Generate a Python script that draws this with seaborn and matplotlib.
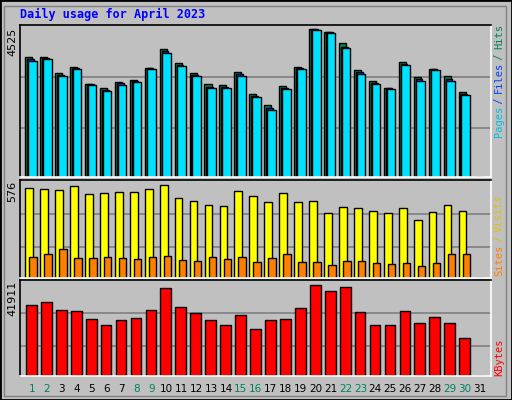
import matplotlib
matplotlib.use("Agg")
import matplotlib.pyplot as plt
import seaborn as sns
import numpy as np

days = list(range(1, 32))
hits = [3660,3660,3180,3354,2834,2712,2895,2956,3323,3904,3476,3180,2834,2804,3201,2528,2192,2773,3354,4525,4424,4088,3262,2926,2712,3507,3048,3293,3079,2590,0]
files = [3600,3630,3120,3330,2830,2660,2860,2920,3323,3840,3420,3120,2760,2760,3140,2480,2110,2720,3320,4525,4424,3970,3200,2880,2712,3450,2990,3293,2990,2540,0]
pages = [3560,3600,3080,3300,2800,2620,2820,2890,3300,3800,3380,3090,2720,2730,3100,2440,2060,2680,3290,4480,4400,3940,3160,2850,2690,3410,2950,3260,2950,2500,0]
visits = [559,553,542,567,518,524,530,530,553,576,493,474,455,443,536,505,468,524,468,474,400,437,431,412,400,431,362,406,455,418,0]
sites = [132,151,182,126,126,132,126,120,132,139,114,108,132,120,132,101,126,151,101,101,83,108,108,95,89,95,77,95,151,151,0]
kbytes = [32742,34119,30447,29988,26316,23562,25857,26775,30447,40545,31824,29070,25857,23562,28152,21726,25857,26316,31365,41911,39168,41004,29529,23562,23562,29988,24480,27234,24480,17595,0]
weekend = [1,2,8,9,15,16,22,23,29,30]

W, H = 512, 400
fig = plt.figure(figsize=(W/100, H/100), dpi=100)
fig.patch.set_facecolor("#c0c0c0")
BG = "#c0c0c0"

def ax_px(x0, y0, x1, y1):
    return fig.add_axes([x0/W, 1-y1/H, (x1-x0)/W, (y1-y0)/H])

d = np.array(days, dtype=float)
def bars(ax, off, vals, width, color):
    sns.barplot(x=d+off, y=vals, native_scale=True, width=width, color=color,
                edgecolor="black", linewidth=1, saturation=1, ax=ax)

axes = []
ax1 = ax_px(20, 25, 490.7, 177)
bars(ax1, -0.2, hits, 0.47, "#00805c")
bars(ax1, -0.08, files, 0.45, "#0040ff")
bars(ax1, 0.04, pages, 0.58, "#00e0ff")
ax1.set_ylim(0, 4525*152/148)
ax1.set_yticks([4525*49/148, 4525*100/148])
axes.append(ax1)

ax2 = ax_px(20, 180, 490.7, 278)
bars(ax2, -0.17, visits, 0.52, "#ffff00")
bars(ax2, 0.09, sites, 0.5, "#ff8000")
ax2.set_ylim(0, 576*98/93)
ax2.set_yticks([576*31/93, 576*64/93])
axes.append(ax2)

ax3 = ax_px(20, 280, 490.7, 376)
bars(ax3, -0.02, kbytes, 0.72, "#ff0000")
ax3.set_ylim(0, 41911*96/91.3)
ax3.set_yticks([41911*29.7/91.3, 41911*62.7/91.3])
axes.append(ax3)

for ax in axes:
    ax.set_facecolor(BG)
    ax.set_xlim(0.217, 31.72)
    ax.set_xticks([])
    ax.set_yticklabels([])
    ax.tick_params(left=False)
    ax.grid(axis="y", color="#808080", linewidth=1.2)
    ax.set_axisbelow(True)
    ax.set_xlabel(""); ax.set_ylabel("")
    for s in ["top", "left"]:
        ax.spines[s].set_color("black")
    for s in ["bottom", "right"]:
        ax.spines[s].set_color("white")
    for s in ax.spines.values():
        s.set_linewidth(1.2)

fig.text(20/W, 1-14/H, "Daily usage for April 2023", color="#0000ff",
         family="DejaVu Sans Mono", fontweight="bold", fontsize=8.5, va="center")
for y, t in [(42, "4525"), (191, "576"), (298, "41911")]:
    fig.text(12/W, 1-y/H, t, rotation=90, fontsize=8, va="center", ha="center",
             family="DejaVu Sans")

def right_label(parts, ybottom, step=5.5):
    y = ybottom
    for txt, col in parts:
        fig.text(499/W, 1-y/H, txt, rotation=90, color=col, fontsize=7.5,
                 family="DejaVu Sans Mono", va="bottom", ha="center")
        y -= len(txt) * step
right_label([("Pages", "#00c0e0"), (" / ", "#0040ff"), ("Files", "#0040ff"), (" / ", "#00805c"), ("Hits", "#00805c")], 137)
right_label([("Sites", "#ff8000"), (" / ", "#e0c000"), ("Visits", "#e0c000")], 276)
right_label([("KBytes", "#ff0000")], 376)

for dd in days:
    x = 20 + (dd - 0.217) * (470.7 / 31.503)
    fig.text(x/W, 1-389/H, str(dd), ha="center", va="center", fontsize=7.5,
             color="#008060" if dd in weekend else "black", family="DejaVu Sans")

from matplotlib.patches import Rectangle
fig.patches.append(Rectangle((0, 0), 1, 1, transform=fig.transFigure, fill=False,
                             edgecolor="black", linewidth=2))
fig.patches.append(Rectangle((4/W, 4/H), 1-10/W, 1-10/H, transform=fig.transFigure, fill=False,
                             edgecolor="#808080", linewidth=1))

fig.savefig("out.png", dpi=100, facecolor=fig.get_facecolor())
